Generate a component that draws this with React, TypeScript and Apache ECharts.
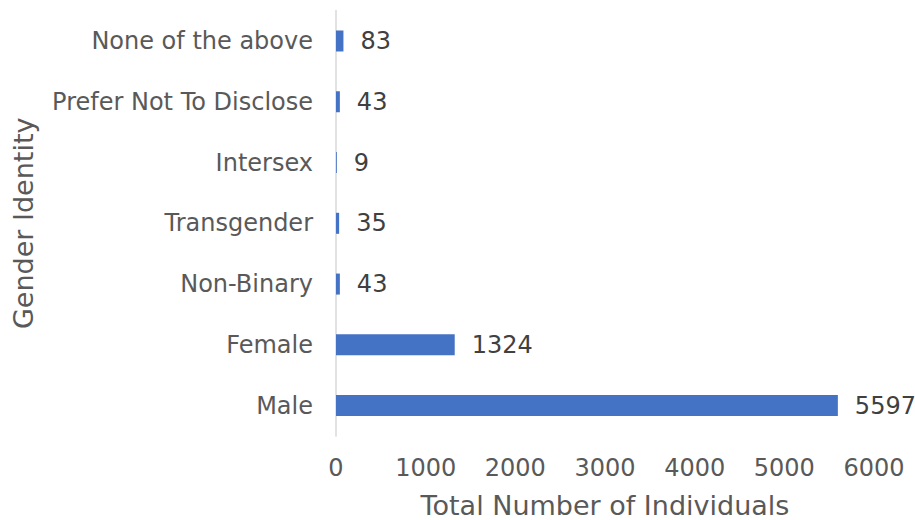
import React, { useEffect, useRef } from "react";
import * as echarts from "echarts";

const categories = ["Male", "Female", "Non-Binary", "Transgender", "Intersex", "Prefer Not To Disclose", "None of the above"];
const values = [5597, 1324, 43, 35, 9, 43, 83];
const xTicks = [0, 1000, 2000, 3000, 4000, 5000, 6000];
const xTitle = "Total Number of Individuals";
const yTitle = "Gender Identity";

const FONT = "'DejaVu Sans', Verdana, sans-serif";

export default function App() {
  const ref = useRef<HTMLDivElement>(null);
  useEffect(() => {
    if (!ref.current) return;
    const chart = echarts.init(ref.current, null, { renderer: "svg" });
    chart.setOption({
      animation: false,
      textStyle: { fontFamily: FONT },
      grid: { left: 336, right: 41, top: 10.6, bottom: 84, containLabel: false, outerBoundsMode: "none" },
      xAxis: {
        type: "value",
        min: xTicks[0],
        max: xTicks[xTicks.length - 1],
        interval: 1000,
        splitLine: { show: false },
        axisLine: { show: false },
        axisTick: { show: false },
        axisLabel: { color: "#595959", fontSize: 24, margin: 20, fontFamily: FONT, formatter: (v: number) => String(v) },
        name: xTitle,
        nameLocation: "middle",
        nameGap: 56,
        nameTextStyle: { color: "#595959", fontSize: 27, fontFamily: FONT },
      },
      yAxis: {
        type: "category",
        data: categories,
        axisLine: { show: true, lineStyle: { color: "#d9d9d9", width: 1.5 } },
        axisTick: { show: false },
        axisLabel: { color: "#595959", fontSize: 24, margin: 23, fontFamily: FONT },
        name: yTitle,
        nameLocation: "middle",
        nameGap: 299,
        nameRotate: 90,
        nameTextStyle: { color: "#595959", fontSize: 27, fontFamily: FONT },
      },
      series: [
        {
          type: "bar",
          data: values,
          barWidth: 21,
          itemStyle: { color: "#4472C4" },
          label: {
            show: true,
            position: "right",
            distance: 17,
            color: "#404040",
            fontSize: 24,
            fontFamily: FONT,
          },
        },
      ],
    });
    return () => chart.dispose();
  }, []);
  return <div ref={ref} style={{ width: 915, height: 520, position: "absolute", left: 0, top: 0 }} />;
}
